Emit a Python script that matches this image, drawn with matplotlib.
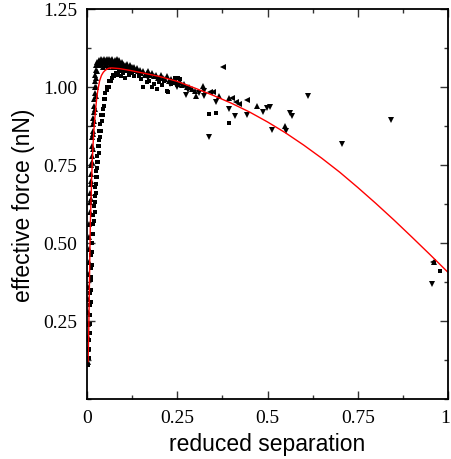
import matplotlib
matplotlib.use("Agg")
import matplotlib.pyplot as plt
from matplotlib.ticker import MultipleLocator, FixedLocator
from matplotlib.transforms import ScaledTranslation

# ---- red fit curve ----
fit_x = [0.003, 0.004, 0.005, 0.006, 0.007, 0.008, 0.009, 0.010, 0.011, 0.013, 0.015,
         0.017, 0.019, 0.021, 0.024, 0.027, 0.030, 0.035, 0.040, 0.045, 0.050, 0.055,
         0.060, 0.065, 0.070, 0.080, 0.090, 0.100, 0.120, 0.150, 0.200, 0.250, 0.300,
         0.350, 0.400, 0.450, 0.500, 0.550, 0.600, 0.650, 0.700, 0.750, 0.800, 0.850,
         0.900, 0.950, 1.000]
fit_y = [0.12, 0.17, 0.23, 0.31, 0.39, 0.47, 0.54, 0.59, 0.63, 0.71, 0.77,
         0.82, 0.86, 0.89, 0.93, 0.965, 0.99, 1.02, 1.037, 1.047, 1.053, 1.057,
         1.06, 1.061, 1.061, 1.06, 1.059, 1.057, 1.053, 1.046, 1.034, 1.018, 0.996,
         0.973, 0.948, 0.92, 0.888, 0.853, 0.814, 0.772, 0.727, 0.678, 0.627, 0.574,
         0.519, 0.463, 0.406]

# ---- squares ----
sq_x = [0.004, 0.005, 0.006, 0.006, 0.007, 0.008, 0.007, 0.009, 0.008, 0.010, 0.009, 0.011,
        0.010, 0.012, 0.011, 0.013, 0.012, 0.014, 0.013, 0.015, 0.014, 0.017, 0.016, 0.019,
        0.018, 0.021, 0.020, 0.023, 0.021, 0.024, 0.022, 0.025, 0.024, 0.027, 0.025, 0.028,
        0.027, 0.030, 0.028, 0.032, 0.030, 0.034, 0.032, 0.036, 0.034, 0.038, 0.037, 0.041,
        0.040, 0.044, 0.043, 0.047, 0.047, 0.051, 0.051, 0.055, 0.056, 0.060, 0.061, 0.066,
        0.068, 0.072, 0.076, 0.080, 0.085, 0.090, 0.095, 0.100, 0.105, 0.110, 0.115, 0.120,
        0.125, 0.130, 0.135,
        0.145, 0.150, 0.156, 0.165, 0.172, 0.179, 0.185, 0.193, 0.200, 0.207, 0.214, 0.221,
        0.225, 0.232, 0.240, 0.245, 0.252, 0.259,
        0.339, 0.356, 0.392, 0.978]
sq_y = [0.11, 0.13, 0.16, 0.19, 0.21, 0.24, 0.27, 0.27, 0.30, 0.31, 0.34, 0.35,
        0.38, 0.39, 0.42, 0.43, 0.46, 0.47, 0.50, 0.50, 0.53, 0.53, 0.56, 0.57,
        0.59, 0.60, 0.62, 0.63, 0.65, 0.66, 0.68, 0.69, 0.71, 0.71, 0.73, 0.74,
        0.76, 0.76, 0.78, 0.79, 0.81, 0.81, 0.83, 0.84, 0.86, 0.86, 0.88, 0.89,
        0.91, 0.91, 0.93, 0.94, 0.96, 0.96, 0.98, 0.99, 1.00, 1.00, 1.02, 1.02,
        1.03, 1.04, 1.035, 1.045, 1.04, 1.05, 1.035, 1.045, 1.03, 1.05, 1.04, 1.055,
        1.045, 1.035, 1.05,
        1.035, 1.025, 1.00, 1.015, 1.02, 1.00, 1.01, 0.994, 1.015, 1.005, 1.02, 0.988,
        0.985, 1.01, 1.02, 1.03, 1.03, 1.026,
        0.915, 0.917, 0.885, 0.410]

# ---- up triangles ----
up_x = [0.002, 0.002, 0.003, 0.003, 0.003, 0.004, 0.004, 0.004, 0.005, 0.005, 0.006, 0.006,
        0.007, 0.008, 0.009, 0.010, 0.011, 0.012, 0.013, 0.014, 0.015, 0.016, 0.017, 0.018,
        0.019, 0.019, 0.020, 0.021, 0.022, 0.022, 0.023, 0.024, 0.026, 0.028,
        0.010, 0.012, 0.014, 0.016, 0.018, 0.020, 0.022, 0.024, 0.025, 0.026, 0.028,
        0.030, 0.032, 0.034, 0.036, 0.038, 0.040, 0.042, 0.044, 0.046, 0.048, 0.050, 0.052,
        0.054, 0.056, 0.058, 0.060, 0.062, 0.064, 0.066, 0.068, 0.070, 0.072, 0.074, 0.076,
        0.078, 0.080, 0.082, 0.084, 0.086, 0.088, 0.090, 0.092, 0.094, 0.096, 0.098, 0.100,
        0.103, 0.106, 0.109, 0.112, 0.115, 0.118, 0.121, 0.124, 0.127, 0.130, 0.134, 0.138,
        0.142, 0.146, 0.150, 0.155, 0.160, 0.165, 0.170, 0.175, 0.180, 0.186, 0.192, 0.198,
        0.204, 0.210, 0.216, 0.222, 0.228, 0.234, 0.240, 0.246, 0.252, 0.258, 0.264, 0.270,
        0.276, 0.283, 0.290, 0.299, 0.302, 0.322, 0.366, 0.394, 0.472, 0.548, 0.960]
up_y = [0.12, 0.16, 0.20, 0.24, 0.28, 0.32, 0.36, 0.40, 0.44, 0.48, 0.52, 0.56,
        0.60, 0.63, 0.66, 0.69, 0.72, 0.75, 0.78, 0.81, 0.84, 0.86, 0.88, 0.90,
        0.92, 0.94, 0.96, 0.98, 1.00, 1.02, 1.04, 1.055, 1.07, 1.08,
        0.64, 0.70, 0.76, 0.80, 0.85, 0.89, 0.93, 0.97, 1.00, 1.03, 1.05,
        1.075, 1.085, 1.07, 1.08, 1.09, 1.075, 1.085, 1.065, 1.08, 1.09, 1.07, 1.085,
        1.075, 1.09, 1.065, 1.08, 1.09, 1.07, 1.085, 1.075, 1.09, 1.065, 1.08, 1.07,
        1.085, 1.075, 1.09, 1.065, 1.08, 1.07, 1.085, 1.06, 1.075, 1.08, 1.065, 1.075,
        1.06, 1.07, 1.065, 1.075, 1.06, 1.07, 1.055, 1.065, 1.06, 1.065, 1.055, 1.06,
        1.05, 1.055, 1.045, 1.05, 1.04, 1.045, 1.05, 1.04, 1.045, 1.035, 1.04, 1.03,
        1.04, 1.03, 1.025, 1.035, 1.02, 1.025, 1.015, 1.02, 1.01, 1.015, 1.005, 1.01,
        1.00, 1.00, 0.995, 0.986, 0.97, 1.004, 0.970, 0.964, 0.940, 0.876, 0.440]

# ---- down triangles ----
dn_x = [0.170, 0.200, 0.230, 0.250, 0.273, 0.280, 0.310, 0.324, 0.324, 0.337, 0.356, 0.394,
        0.411, 0.442, 0.488, 0.498, 0.507, 0.512, 0.551, 0.562, 0.568, 0.613, 0.706, 0.842,
        0.956]
dn_y = [1.030, 1.020, 1.010, 1.000, 0.974, 0.990, 0.980, 0.987, 0.972, 0.840, 0.951, 0.929,
        0.906, 0.910, 0.919, 0.932, 0.935, 0.863, 0.859, 0.917, 0.908, 0.970, 0.818, 0.894,
        0.368]

# ---- left triangles ----
lt_x = [0.376, 0.341, 0.348, 0.401, 0.413, 0.421, 0.442, 0.959]
lt_y = [1.065, 0.983, 0.983, 0.964, 0.951, 0.946, 0.957, 0.438]

x_ticks = [0, 0.25, 0.5, 0.75, 1]
x_ticklabels = ["0", "0.25", "0.5", "0.75", "1"]
y_ticks = [0.25, 0.5, 0.75, 1.0, 1.25]
y_ticklabels = ["0.25", "0.50", "0.75", "1.00", "1.25"]

fig = plt.figure(figsize=(4.51, 4.60), dpi=100)
ax = fig.add_axes([87 / 451, 60 / 460, 361 / 451, 390 / 460])

ax.plot(sq_x, sq_y, linestyle="none", marker="s", ms=3.2, color="black", mew=0)
ax.plot(up_x, up_y, linestyle="none", marker="^", ms=4.2, color="black", mew=0)
ax.plot(dn_x, dn_y, linestyle="none", marker="v", ms=4.2, color="black", mew=0)
ax.plot(lt_x, lt_y, linestyle="none", marker="<", ms=4.2, color="black", mew=0)
ax.plot(fit_x, fit_y, color="#ff0000", lw=1.0)

ax.set_xlim(0, 1)
ax.set_ylim(0, 1.25)
ax.xaxis.set_major_locator(FixedLocator(x_ticks))
ax.set_xticklabels(x_ticklabels)
ax.xaxis.set_minor_locator(MultipleLocator(0.125))
ax.yaxis.set_major_locator(FixedLocator(y_ticks))
ax.set_yticklabels(y_ticklabels)
ax.yaxis.set_minor_locator(MultipleLocator(0.125))

ax.tick_params(which="both", direction="in", top=True, right=True, width=1.0, color="#333333")
ax.tick_params(which="major", length=6)
ax.tick_params(which="minor", length=3)
ax.tick_params(axis="x", which="major", pad=7)
ax.tick_params(axis="y", which="major", pad=7)
for lab in ax.get_xticklabels() + ax.get_yticklabels():
    lab.set_fontfamily("Liberation Serif")
    lab.set_fontsize(14)

# keep the last x tick label inside the figure
last = ax.get_xticklabels()[-1]
last.set_transform(last.get_transform() + ScaledTranslation(-3 / 100, 0, fig.dpi_scale_trans))

for sp in ax.spines.values():
    sp.set_linewidth(1.3)

ax.set_xlabel("reduced separation", fontfamily="Liberation Sans", fontsize=16.5)
ax.set_ylabel("effective force (nN)", fontfamily="Liberation Sans", fontsize=16.5)
ax.xaxis.set_label_coords(0.5, -0.085)
ax.yaxis.set_label_coords(-0.145, 0.5)

fig.savefig("out.png", dpi=100)
